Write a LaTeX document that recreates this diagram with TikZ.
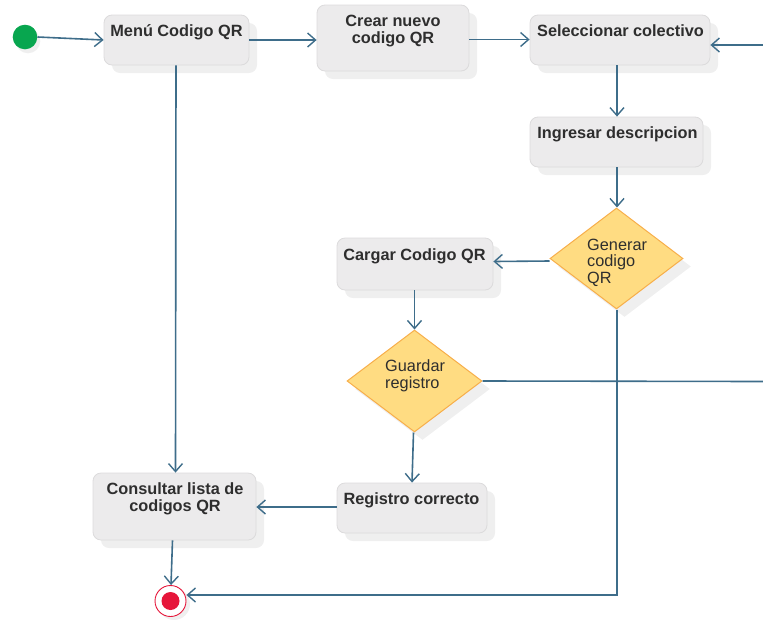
\documentclass[tikz,border=0pt]{standalone}
\usepackage{fontspec}
\setmainfont{Liberation Sans}
\usetikzlibrary{arrows.meta,shapes.geometric,shadows}

\definecolor{flow}{HTML}{3E6D8A}
\definecolor{boxfill}{HTML}{ECEBEC}
\definecolor{boxline}{HTML}{DCDBDC}
\definecolor{shadowgray}{HTML}{EFEFEF}
\definecolor{decfill}{HTML}{FFDC82}
\definecolor{decline}{HTML}{F7AE4A}
\definecolor{startgreen}{HTML}{08A64F}
\definecolor{endred}{HTML}{E6163A}
\definecolor{ink}{HTML}{2E2E2E}

\tikzset{
  x=1pt, y=-1pt,
  activity/.style={draw=boxline, line width=0.8pt, fill=boxfill, rounded corners=8pt,
    inner sep=0pt, drop shadow={shadow xshift=8pt, shadow yshift=-8pt, opacity=1, fill=shadowgray}},
  decision/.style={diamond, draw=decline, line width=1pt, fill=decfill, inner sep=0pt,
    drop shadow={shadow xshift=8pt, shadow yshift=-8pt, opacity=1, fill=shadowgray}},
  acttext/.style={font=\fontsize{16.3}{17}\selectfont\bfseries, text=ink, align=center, inner sep=0pt, anchor=base},
  dectext/.style={font=\fontsize{16.3}{16.5}\selectfont, text=ink, align=left, inner sep=0pt, anchor=base west},
  flowline/.style={draw=flow, line width=1.6pt, -{Straight Barb[length=8pt,width=14pt,line width=1.4pt]}},
  plainline/.style={draw=flow, line width=1.6pt},
}

\begin{document}
\begin{tikzpicture}
\useasboundingbox (0,0) rectangle (763,619);

% start and end
\fill[shadowgray] (28,41) circle (12.3pt);
\node[circle, fill=startgreen, minimum size=24.6pt, inner sep=0pt] (start) at (25,37) {};

\fill[shadowgray] (174,604) circle (16pt);
\node[circle, draw=endred, line width=0.9pt, fill=white, minimum size=31pt, inner sep=0pt] (stop) at (170.5,601) {};
\node[circle, fill=endred, minimum size=18pt, inner sep=0pt] (stopdot) at (170.5,601) {};

% activities (multi-line labels are placed by the baseline of their last line)
\node[activity, minimum width=145pt, minimum height=50pt] (menu) at (176.5,40) {};
\node[acttext] (menu-t) at (176.5,36.7) {Menú Codigo QR};

\node[activity, minimum width=152pt, minimum height=66pt] (crear) at (393,38) {};
\node[acttext] (crear-t) at (393,43.5) {Crear nuevo\\codigo QR};

\node[activity, minimum width=180pt, minimum height=50pt] (selec) at (620,40) {};
\node[acttext] (selec-t) at (620.5,36.7) {Seleccionar colectivo};

\node[activity, minimum width=173pt, minimum height=50pt] (ingr) at (616.5,142) {};
\node[acttext] (ingr-t) at (617.5,138.5) {Ingresar descripcion};

\node[activity, minimum width=156pt, minimum height=52pt] (cargar) at (415,264) {};
\node[acttext] (cargar-t) at (414.5,260) {Cargar Codigo QR};

\node[activity, minimum width=150pt, minimum height=50pt] (reg) at (412,508) {};
\node[acttext] (reg-t) at (411.5,504) {Registro correcto};

\node[activity, minimum width=163pt, minimum height=67pt] (cons) at (174.5,506.5) {};
\node[acttext] (cons-t) at (175,511) {Consultar lista de\\codigos QR};

% decisions
\node[decision, minimum width=133pt, minimum height=101pt] (gen) at (616.5,258.5) {};
\node[dectext] (gen-t) at (587,283) {Generar\\codigo\\QR};

\node[decision, minimum width=135pt, minimum height=102pt] (guard) at (414.5,381) {};
\node[dectext] (guard-t) at (385,388) {Guardar\\registro};

% free ends at the right margin and the corner of the return path
\coordinate (inR) at (763,45);
\coordinate (outR) at (763,381.5);
\coordinate (corner) at (617,595);

% flows
\draw[flowline] (start.east) -- (menu.west);
\draw[flowline] (menu.east |- 0,40) -- (crear.west |- 0,40);
\draw[flowline] (crear.east |- 0,39.5) -- (selec.west |- 0,39.5);
\draw[flowline] (inR) -- (selec.east |- inR);
\draw[flowline] (selec.south -| 617,0) -- (ingr.north -| 617,0);
\draw[flowline] (ingr.south -| 617,0) -- (gen.north -| 617,0);
\draw[flowline] (gen.west |- 0,261) -- (cargar.east |- 0,261.5);
\draw[flowline] (gen.south -| 617,0) -- (corner) -- (stop.east |- corner);
\draw[flowline] (cargar.south -| 414.5,0) -- (guard.north -| 414.5,0);
\draw[plainline] (guard.east) -- (outR);
\draw[flowline] (guard.south -| 413.5,0) -- (reg.north -| 412,0);
\draw[flowline] (reg.west |- 0,507) -- (cons.east |- 0,507);
\draw[flowline] (menu.south -| 176,0) -- (cons.north -| 175.5,0);
\draw[flowline] (cons.south -| 172.5,0) -- (stop.north -| 171,0);

\end{tikzpicture}
\end{document}
